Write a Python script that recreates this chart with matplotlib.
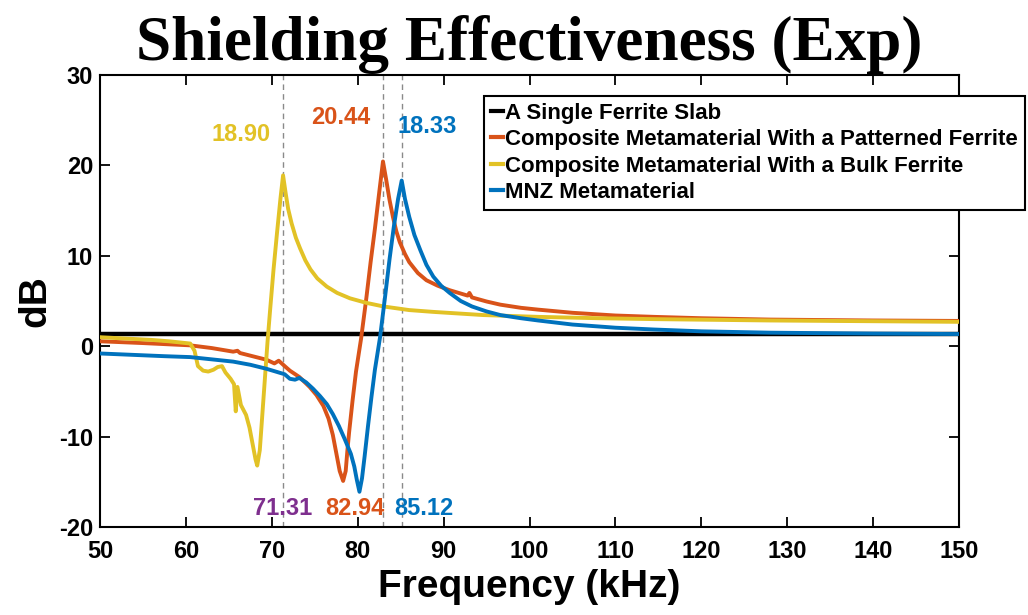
"""Shielding effectiveness (experimental) vs frequency."""

import matplotlib

matplotlib.use("Agg")
import matplotlib.pyplot as plt

# ---- data ------------------------------------------------------------------
slab_f = [50, 150]
slab_db = [1.3, 1.3]

patterned_f = [50, 55, 60.5, 63, 65.5, 66, 66.3, 69.4, 70.3, 70.8, 71.5, 72.1,
               73.2, 74.4, 75.2, 76.0, 76.6, 77.1, 77.5, 77.9, 78.3, 78.6,
               78.8, 79.0, 79.4, 79.8, 80.4, 81.0, 81.5, 82.0, 82.5, 82.94,
               83.3, 83.7, 84.1, 84.5, 84.9, 85.5, 86.0, 87.0, 88.0, 89.3,
               90.7, 92.8, 93.0, 93.3, 95.0, 96.6, 99, 101, 105, 110, 114.5,
               120, 128, 140, 150]
patterned_db = [0.55, 0.35, 0.1, -0.2, -0.6, -0.5, -0.75, -1.5, -1.9, -1.6,
                -2.2, -2.7, -3.4, -4.5, -5.4, -6.6, -8.0, -9.8, -11.8, -13.8,
                -14.9, -13.8, -11.5, -9.5, -6.0, -2.8, 0.9, 5.3, 9.3, 13.0,
                17.0, 20.44, 18.5, 16.2, 14.3, 12.7, 11.5, 10.2, 9.3, 8.1, 7.3,
                6.7, 6.2, 5.6, 5.9, 5.4, 4.95, 4.6, 4.25, 4.05, 3.7, 3.4, 3.25,
                3.1, 2.95, 2.85, 2.8]

bulk_f = [50, 53, 56, 58, 60, 60.5, 61.0, 61.4, 62.0, 62.6, 63.2, 63.7, 64.2,
          64.6, 65.2, 65.6, 65.8, 66.0, 66.4, 67.0, 67.4, 67.8, 68.1, 68.3,
          68.6, 68.9, 69.2, 69.5, 69.8, 70.2, 70.6, 71.0, 71.31, 71.6, 71.9,
          72.3, 72.8, 73.3, 73.9, 74.5, 75.3, 76.4, 77.6, 79.1, 81.0, 83.0,
          86.0, 88.8, 94.6, 101, 108, 114.5, 128, 150]
bulk_db = [1.0, 0.85, 0.7, 0.55, 0.35, 0.3, -0.5, -2.2, -2.7, -2.8, -2.6,
           -2.3, -2.2, -2.9, -3.6, -4.2, -7.2, -4.5, -6.5, -7.6, -9.0, -11.0,
           -12.5, -13.2, -11.5, -7.5, -3.5, 0.5, 4.0, 8.5, 12.5, 16.3, 18.9,
           17.0, 15.2, 13.6, 12.0, 10.8, 9.5, 8.5, 7.5, 6.6, 5.9, 5.3, 4.8,
           4.4, 4.0, 3.8, 3.45, 3.25, 3.1, 3.0, 2.85, 2.7]

mnz_f = [50, 55, 57.5, 60.5, 63, 65.5, 67.5, 69.4, 71.5, 72.1, 72.7, 73.2,
         74.0, 74.8, 75.6, 76.4, 77.1, 77.8, 78.5, 79.2, 79.6, 79.9, 80.2,
         80.5, 80.8, 81.2, 81.6, 82.0, 82.6, 83.2, 83.7, 84.2, 84.7, 85.12,
         85.5, 86.0, 86.6, 87.3, 88.0, 88.8, 89.7, 90.7, 92.0, 93.3, 95.0,
         96.6, 99, 101, 105, 110, 114.5, 120, 128, 140, 150]
mnz_db = [-0.8, -1.0, -1.1, -1.2, -1.45, -1.7, -2.05, -2.5, -3.1, -3.6, -3.7,
          -3.5, -4.0, -4.7, -5.5, -6.4, -7.5, -8.8, -10.3, -11.9, -13.3,
          -14.8, -16.1, -14.6, -12.2, -8.8, -5.6, -2.6, 1.0, 5.6, 9.6, 13.2,
          16.3, 18.33, 16.3, 14.3, 12.3, 10.6, 9.0, 7.7, 6.7, 5.9, 5.0, 4.4,
          3.85, 3.45, 3.1, 2.85, 2.4, 2.05, 1.85, 1.65, 1.5, 1.4, 1.35]

peak_f = [71.31, 82.94, 85.12]
peak_db = ["18.90", "20.44", "18.33"]
peak_f_txt = ["71.31", "82.94", "85.12"]

LABELS = [
    "A Single Ferrite Slab",
    "Composite Metamaterial With a Patterned Ferrite",
    "Composite Metamaterial With a Bulk Ferrite",
    "MNZ Metamaterial",
]
BLACK = "#000000"
ORANGE = "#D95319"
YELLOW = "#E2C226"
BLUE = "#0072BD"
PURPLE = "#7E2F8E"

plt.rcParams.update(
    {
        "font.family": ["Liberation Sans", "DejaVu Sans"],
        "font.weight": "bold",
        "axes.labelweight": "bold",
        "axes.unicode_minus": False,
        "axes.linewidth": 1.5,
        "xtick.direction": "in",
        "ytick.direction": "in",
        "xtick.top": True,
        "ytick.right": True,
        "xtick.major.size": 7,
        "ytick.major.size": 7,
        "xtick.major.width": 1.3,
        "ytick.major.width": 1.3,
        "lines.solid_joinstyle": "round",
    }
)

fig = plt.figure(figsize=(10.28, 6.15), dpi=100)
ax = fig.add_axes([0.0973, 0.143, 0.8356, 0.735])

for x in peak_f:
    ax.axvline(x, color="#8a8a8a", lw=1.0, ls=(0, (4, 3)), zorder=1)

ax.plot(slab_f, slab_db, color=BLACK, lw=3.2, label=LABELS[0], zorder=3)
ax.plot(patterned_f, patterned_db, color=ORANGE, lw=2.8, label=LABELS[1], zorder=4)
ax.plot(bulk_f, bulk_db, color=YELLOW, lw=2.8, label=LABELS[2], zorder=4)
ax.plot(mnz_f, mnz_db, color=BLUE, lw=2.8, label=LABELS[3], zorder=4)

# peak value labels
ax.text(66.4, 23.4, peak_db[0], color=YELLOW, fontsize=17, ha="center", va="center")
ax.text(78.0, 25.3, peak_db[1], color=ORANGE, fontsize=17, ha="center", va="center")
ax.text(88.1, 24.3, peak_db[2], color=BLUE, fontsize=17, ha="center", va="center")

# peak frequency labels
ax.text(71.31, -17.9, peak_f_txt[0], color=PURPLE, fontsize=17, ha="center", va="center")
ax.text(83.1, -17.9, peak_f_txt[1], color=ORANGE, fontsize=17, ha="right", va="center")
ax.text(84.2, -17.9, peak_f_txt[2], color=BLUE, fontsize=17, ha="left", va="center")

ax.set_xlim(50, 150)
ax.set_ylim(-20, 30)
ax.set_xticks(range(50, 151, 10))
ax.set_yticks(range(-20, 31, 10))
ax.tick_params(axis="x", labelsize=17, pad=9)
ax.tick_params(axis="y", labelsize=17, pad=5)
ax.set_xlabel("Frequency (kHz)", fontsize=28, labelpad=5)
ax.set_ylabel("dB", fontsize=28, labelpad=4)

leg = ax.legend(
    loc="upper left",
    bbox_to_anchor=(0.471, 0.844),
    bbox_transform=fig.transFigure,
    fontsize=16,
    handlelength=0.55,
    handletextpad=0.1,
    labelspacing=0.25,
    borderpad=0.3,
    borderaxespad=0,
    fancybox=False,
    framealpha=1,
    edgecolor="black",
)
leg.get_frame().set_linewidth(1.5)
for h in leg.get_lines():
    h.set_linewidth(3)

fig.text(0.515, 0.902, "Shielding Effectiveness (Exp)", ha="center",
         va="baseline", fontsize=45.5, fontweight="bold",
         family=["Liberation Serif", "DejaVu Serif"])

fig.savefig("out.png", dpi=100)
plt.close(fig)
